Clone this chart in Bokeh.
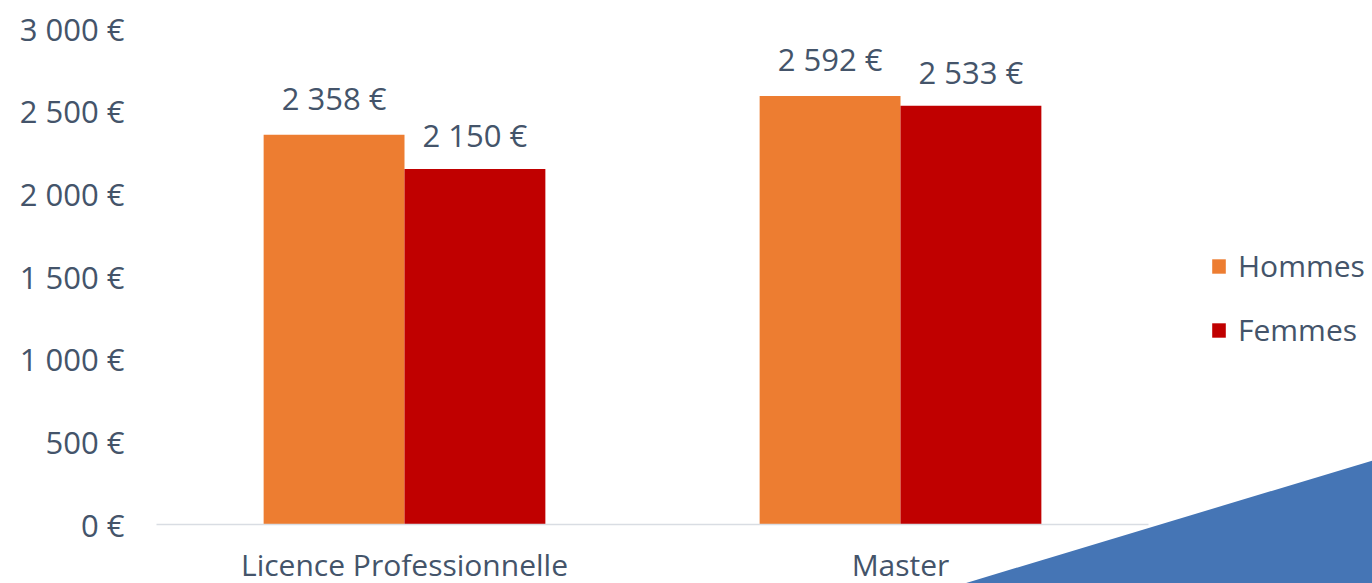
from bokeh.plotting import figure
from bokeh.models import (ColumnDataSource, FixedTicker, Legend, LegendItem,
                          Range1d, PolyAnnotation)
from bokeh.transform import dodge
from bokeh.core.properties import value
from bokeh.embed import file_html
from bokeh.resources import INLINE

# ---- data ----
categories = ["Licence Professionnelle", "Master"]
series_names = ["Hommes", "Femmes"]
hommes = [2358, 2592]
femmes = [2150, 2533]
y_ticks = [0, 500, 1000, 1500, 2000, 2500, 3000]
y_tick_labels = ["0 €", "500 €", "1 000 €", "1 500 €", "2 000 €", "2 500 €", "3 000 €"]


def fmt(v):
    return f"{v:,}".replace(",", " ") + " €"


cat_pos = [i + 0.5 for i in range(len(categories))]   # category slot centres
source = ColumnDataSource(dict(
    x=cat_pos,
    cat=categories,
    hommes=hommes,
    femmes=femmes,
    hommes_lbl=[fmt(v) for v in hommes],
    femmes_lbl=[fmt(v) for v in femmes],
))

FONT = "Open Sans"
FS_NUM = "31px"
FS_TXT = "30px"
TEXT = "#44546A"
ORANGE = "#ED7D31"
RED = "#C00000"
BLUE = "#4575B5"
BAR_W = 0.284

W, H = 1372, 583
# plot area inside the canvas (pixels): left 156, right 1148, top 28, baseline 524
PL, PR, PT, PB = 156, 1148, 28, 524
ncat = len(categories)
ppx = (PR - PL) / ncat                  # pixels per category slot
ymax = y_ticks[-1]
ppy = (PB - PT) / ymax                  # pixels per euro

p = figure(
    x_range=Range1d(-PL / ppx, (W - PL) / ppx),
    y_range=Range1d(-(H - PB) / ppy, ymax + PT / ppy),
    frame_width=W, frame_height=H,
    min_border=0,
    output_backend="svg", toolbar_location=None,
    background_fill_color="white", border_fill_color="white",
)
p.outline_line_color = None
p.xgrid.visible = False
p.ygrid.visible = False

rh = p.vbar(x=dodge("x", -BAR_W / 2), top="hommes", width=BAR_W,
            source=source, fill_color=ORANGE, line_color=None)
rf = p.vbar(x=dodge("x", BAR_W / 2), top="femmes", width=BAR_W,
            source=source, fill_color=RED, line_color=None)

p.text(x=dodge("x", -BAR_W / 2), y="hommes", text="hommes_lbl",
       source=source, text_align="center", text_baseline="middle", y_offset=-37,
       text_font=value(FONT), text_font_size=value(FS_NUM), text_color=TEXT)
p.text(x=dodge("x", BAR_W / 2), y="femmes", text="femmes_lbl",
       source=source, text_align="center", text_baseline="middle", y_offset=-34,
       text_font=value(FONT), text_font_size=value(FS_NUM), text_color=TEXT)

# axes (drawn at fixed data locations inside the full-canvas frame)
p.yaxis.fixed_location = 0
p.yaxis.ticker = FixedTicker(ticks=y_ticks)
p.yaxis.major_label_overrides = dict(zip(y_ticks, y_tick_labels))
p.yaxis.axis_line_color = None
p.yaxis.major_tick_line_color = None
p.yaxis.minor_tick_line_color = None
p.yaxis.major_tick_out = 0
p.yaxis.major_tick_in = 0
p.yaxis.major_label_standoff = 32
p.yaxis.major_label_text_font = FONT
p.yaxis.major_label_text_font_size = FS_NUM
p.yaxis.major_label_text_color = TEXT

p.xaxis.fixed_location = 0
p.xaxis.bounds = (0, ncat)
p.xaxis.ticker = FixedTicker(ticks=cat_pos)
p.xaxis.major_label_overrides = dict(zip(cat_pos, categories))
p.xaxis.axis_line_color = "#D9DDE3"
p.xaxis.axis_line_width = 1.5
p.xaxis.major_tick_line_color = None
p.xaxis.minor_tick_line_color = None
p.xaxis.major_tick_out = 0
p.xaxis.major_tick_in = 0
p.xaxis.major_label_standoff = 19
p.xaxis.major_label_text_font = FONT
p.xaxis.major_label_text_font_size = FS_TXT
p.xaxis.major_label_text_color = TEXT

legend = Legend(
    items=[LegendItem(label=series_names[0], renderers=[rh]),
           LegendItem(label=series_names[1], renderers=[rf])],
    location=(1210, 233),
    orientation="vertical",
    glyph_width=17, glyph_height=18, label_standoff=11, spacing=23,
    padding=0, margin=0,
    border_line_color=None, background_fill_alpha=0,
    label_text_font=FONT, label_text_font_size=FS_TXT, label_text_color=TEXT,
)
p.add_layout(legend)

# decorative slide shape in the bottom-right corner
tri = PolyAnnotation(xs=[964, W, W], ys=[H, 460, H],
                     xs_units="canvas", ys_units="canvas",
                     fill_color=BLUE, fill_alpha=1.0, line_color=None,
                     level="overlay")
p.add_layout(tri)

open("out.html", "w").write(file_html(p, INLINE))
